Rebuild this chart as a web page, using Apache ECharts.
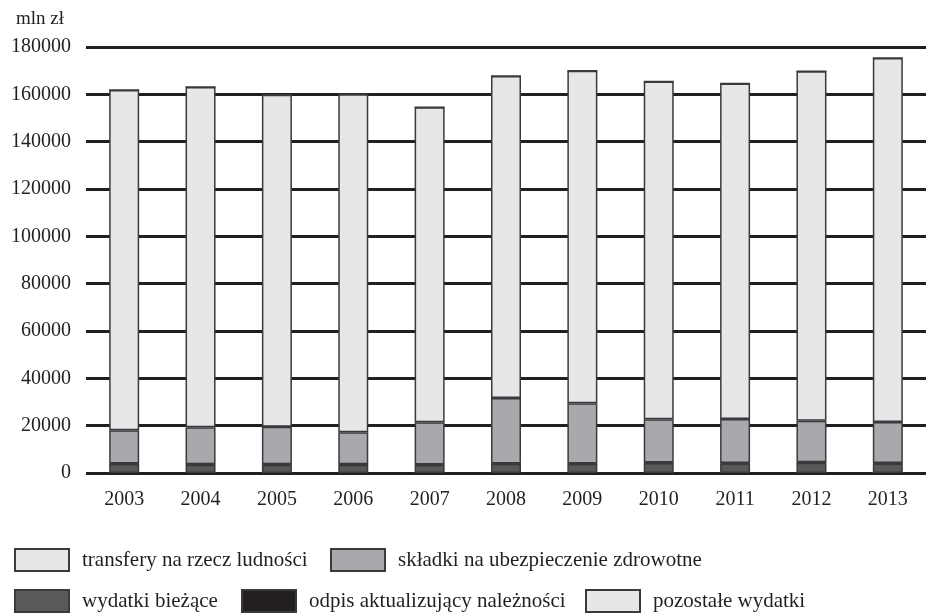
<!DOCTYPE html>
<html lang="pl" style="height: 100%">
<head>
  <meta charset="utf-8">
  <style>
    body { margin: 0; background: #ffffff; }
  </style>
</head>
<body style="height: 100%; margin: 0">
  <div id="container" style="width: 926px; height: 613px"></div>

  <script type="text/javascript" src="https://cdn.jsdelivr.net/npm/echarts@6/dist/echarts.min.js"></script>

  <script type="text/javascript">
    // dane (mln zł)
    var years = ['2003', '2004', '2005', '2006', '2007', '2008', '2009', '2010', '2011', '2012', '2013'];
    var wydatkiBiezace = [3800, 3500, 3500, 3500, 3400, 3800, 3800, 4200, 4000, 4300, 4000];
    var odpis = [200, 200, 200, 200, 200, 200, 200, 200, 200, 200, 200];
    var skladki = [14100, 15600, 15800, 13500, 17800, 27700, 25500, 18300, 18600, 17600, 17400];
    var transfery = [143700, 143800, 140300, 142800, 133100, 136000, 140500, 142700, 141800, 147700, 153700];
    var pozostale = [0, 0, 0, 0, 0, 0, 0, 0, 0, 0, 0];

    var FONT = '"Liberation Serif", "DejaVu Serif", serif';
    var INK = '#231f20';

    var myChart = echarts.init(document.getElementById('container'), null, { renderer: 'canvas' });

    function barSeries(name, data, color) {
      return {
        name: name,
        type: 'bar',
        stack: 'total',
        barWidth: 30,
        data: data,
        itemStyle: { color: color, borderColor: '#3a3a3c', borderWidth: 1.5 },
        emphasis: { disabled: true }
      };
    }

    function legendAt(name, left, top) {
      return {
        data: [name],
        left: left,
        top: top,
        padding: 0,
        itemWidth: 54,
        itemHeight: 22,
        itemGap: 0,
        icon: 'rect',
        textStyle: { fontFamily: FONT, fontSize: 21, color: INK, padding: [0, 0, 0, 8] }
      };
    }

    var option = {
      animation: false,
      title: {
        text: 'mln zł',
        left: 16,
        top: 10,
        padding: 0,
        textStyle: { fontFamily: FONT, fontSize: 19, fontWeight: 'normal', color: INK }
      },
      legend: [
        legendAt('transfery na rzecz ludności', 14, 548),
        legendAt('składki na ubezpieczenie zdrowotne', 330, 548),
        legendAt('wydatki bieżące', 14, 589),
        legendAt('odpis aktualizujący należności', 241, 589),
        legendAt('pozostałe wydatki', 585, 589)
      ],
      grid: { left: 86, top: 47, width: 847, bottom: 140 },
      xAxis: {
        type: 'category',
        data: years,
        axisLine: { show: false },
        axisTick: { show: false },
        axisLabel: { fontFamily: FONT, fontSize: 20, color: INK, margin: 17 }
      },
      yAxis: {
        type: 'value',
        min: 0,
        max: 180000,
        interval: 20000,
        axisLine: { show: false },
        axisTick: { show: false },
        axisLabel: {
          fontFamily: FONT, fontSize: 20, color: INK, margin: 15,
          formatter: function (v) { return String(v); }
        },
        splitLine: { lineStyle: { color: INK, width: 3 } }
      },
      series: [
        barSeries('wydatki bieżące', wydatkiBiezace, '#58595b'),
        barSeries('odpis aktualizujący należności', odpis, '#231f20'),
        barSeries('składki na ubezpieczenie zdrowotne', skladki, '#a7a9ac'),
        barSeries('transfery na rzecz ludności', transfery, '#e6e7e8'),
        barSeries('pozostałe wydatki', pozostale, '#e6e7e8')
      ]
    };

    myChart.setOption(option);
    window.addEventListener('resize', myChart.resize);
  </script>
</body>
</html>
